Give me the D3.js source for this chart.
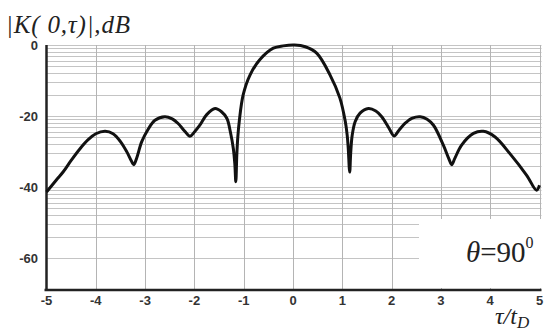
<!DOCTYPE html>
<html><head><meta charset="utf-8">
<script src="https://cdn.jsdelivr.net/npm/d3@7"></script>
<style>html,body{margin:0;padding:0;background:#fff;}svg{display:block;}</style>
</head><body><svg id="c" width="544" height="332"></svg>
<script>
const tau = [-5.00,-4.80,-4.66,-4.50,-4.32,-4.15,-4.00,-3.81,-3.65,-3.50,-3.37,-3.28,-3.23,-3.17,-3.07,-2.95,-2.80,-2.60,-2.45,-2.33,-2.20,-2.09,-2.00,-1.89,-1.75,-1.58,-1.45,-1.34,-1.27,-1.21,-1.18,-1.16,-1.14,-1.12,-1.09,-1.01,-0.87,-0.67,-0.40,-0.20,0.03,0.25,0.48,0.75,0.95,1.06,1.10,1.12,1.15,1.17,1.20,1.26,1.36,1.53,1.68,1.80,1.95,2.05,2.15,2.27,2.42,2.58,2.72,2.85,3.05,3.16,3.22,3.28,3.42,3.66,3.86,4.10,4.40,4.74,4.94,5.00];
const kdB = [-41.4,-38.0,-35.7,-32.5,-29.2,-26.6,-25.0,-24.3,-25.0,-27.2,-30.1,-32.6,-33.7,-31.8,-27.3,-24.0,-21.2,-20.2,-20.8,-22.1,-24.2,-25.7,-24.5,-22.6,-19.6,-17.9,-18.8,-20.7,-24.5,-29.2,-33.5,-38.5,-31.0,-26.0,-21.5,-14.0,-8.4,-4.1,-0.9,-0.25,0,-0.5,-2.3,-8.4,-14.9,-21.5,-25.5,-29.0,-35.8,-30.5,-25.5,-21.6,-19.2,-17.9,-18.6,-20.2,-23.5,-25.6,-24.0,-22.1,-20.6,-20.2,-20.9,-22.6,-28.2,-32.0,-33.7,-32.0,-28.2,-24.9,-24.3,-25.9,-30.6,-36.7,-40.9,-39.5];
const xTicks = [-5,-4,-3,-2,-1,0,1,2,3,4,5];
const yTicks = [0,-20,-40,-60];
const gridMant = [1,0.9,0.8,0.7,0.6,0.5,0.4,0.3,0.2];
const gridDecades = [1,0.1,0.01,0.001];

const svg = d3.select("#c");
const x = d3.scaleLinear().domain([-5,5]).range([46.5,539.5]);
const y = d3.scaleLinear().domain([-69,0]).range([290,45]);

// horizontal grid (log-amplitude lines in dB)
const gridDb = [];
gridDecades.forEach((d,i)=>{ (i<3?gridMant:[1]).forEach(m=>gridDb.push(20*Math.log10(m*d))); });
svg.append("g").selectAll("line").data(gridDb).join("line")
  .attr("x1",x(-5)).attr("x2",x(5)+2)
  .attr("y1",d=>Math.round(y(d))+0.5).attr("y2",d=>Math.round(y(d))+0.5)
  .attr("stroke","#c4c4c4").attr("stroke-width",1);
// vertical grid
svg.append("g").selectAll("line").data(xTicks.slice(1)).join("line")
  .attr("x1",d=>Math.round(x(d))+0.5).attr("x2",d=>Math.round(x(d))+0.5)
  .attr("y1",y(0)).attr("y2",y(-69))
  .attr("stroke","#b4b4b4").attr("stroke-width",1);

// white legend box
svg.append("rect").attr("x",419).attr("y",219).attr("width",125).attr("height",69).attr("fill","#fff");

// axes lines
svg.append("line").attr("x1",x(-5)).attr("x2",x(-5)).attr("y1",y(0)).attr("y2",y(-69)+1)
  .attr("stroke","#222").attr("stroke-width",2.5);
svg.append("line").attr("x1",x(-5)-2).attr("x2",x(5)+2).attr("y1",y(-69)).attr("y2",y(-69))
  .attr("stroke","#222").attr("stroke-width",2.5);

// curve
const pts = tau.map((t,i)=>[t,kdB[i]]);
svg.append("path").datum(pts)
  .attr("d", d3.line().x(d=>x(d[0])).y(d=>y(d[1])).curve(d3.curveCatmullRom.alpha(0.5)))
  .attr("fill","none").attr("stroke","#111").attr("stroke-width",3).attr("stroke-linejoin","round");

// tick labels
svg.append("g").selectAll("text").data(xTicks).join("text")
  .attr("x",d=>x(d)).attr("y",305).attr("text-anchor","middle")
  .attr("font-family","Liberation Sans, Arial, sans-serif").attr("font-weight","bold")
  .attr("font-size",13).attr("fill","#333").text(d=>d);
svg.append("g").selectAll("text").data(yTicks).join("text")
  .attr("x",38).attr("y",d=>y(d)+5).attr("text-anchor","end")
  .attr("font-family","Liberation Sans, Arial, sans-serif").attr("font-weight","bold")
  .attr("font-size",13).attr("fill","#333").text(d=>d);

// title
svg.append("text").attr("x",6).attr("y",33)
  .attr("font-family","Liberation Serif, Times New Roman, serif").attr("font-style","italic")
  .attr("font-size",25).attr("fill","#222")
  .attr("textLength",124).attr("lengthAdjust","spacing")
  .text("|K( 0,τ)|,dB");

// x-axis label
const xl = svg.append("text").attr("x",495).attr("y",324)
  .attr("font-family","Liberation Serif, Times New Roman, serif").attr("font-style","italic")
  .attr("font-size",24).attr("fill","#222");
xl.append("tspan").text("τ/t");
xl.append("tspan").attr("dy",4).attr("font-size",17).text("D");

// theta label
const th = svg.append("text").attr("x",466).attr("y",262)
  .attr("font-family","Liberation Serif, Times New Roman, serif")
  .attr("font-size",29).attr("fill","#222");
th.append("tspan").attr("font-style","italic").text("θ");
th.append("tspan").text("=90");
th.append("tspan").attr("dy",-14).attr("font-size",16).text("0");
</script></body></html>
